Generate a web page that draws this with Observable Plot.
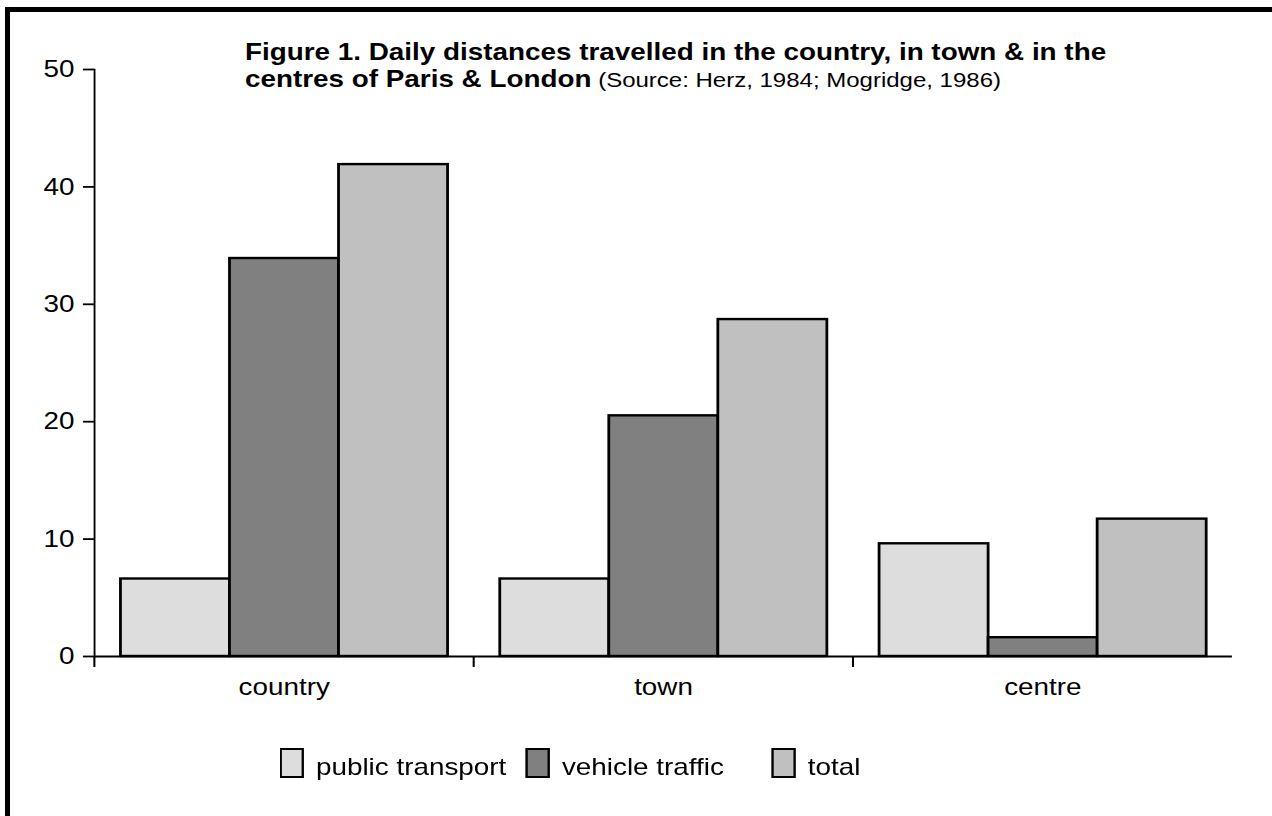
<!DOCTYPE html>
<html>
<head>
<meta charset="utf-8">
<script src="https://cdn.jsdelivr.net/npm/d3@7"></script>
<script src="https://cdn.jsdelivr.net/npm/@observablehq/plot@0.6"></script>
<style>
  html, body { margin: 0; padding: 0; background: white; overflow: hidden; }
  #page { position: relative; width: 1272px; height: 816px; background: white; overflow: hidden; }
  #border { position: absolute; left: 5px; top: 7px; right: -20px; bottom: -20px; z-index: 10;
            border-left: 5px solid black; border-top: 5px solid black; pointer-events: none; }
  #stage { position: absolute; left: 0; top: 0; width: 1097px; height: 816px;
           transform-origin: 0 0; font-family: "Liberation Sans", Arial, Helvetica, sans-serif; color: black; }
  #chart { position: absolute; left: 0; top: 0; }
  #title { position: absolute; left: 211.2px; top: 38px; font-size: 24px; font-weight: bold;
           line-height: 27px; white-space: nowrap; }
  #title .src { font-weight: normal; font-size: 20.7px; }
  #legend { position: absolute; left: 241.4px; top: 748px; display: flex; }
  .item { width: 212px; display: flex; align-items: flex-start; }
  .sw { width: 17px; height: 26px; border: 2px solid black; box-sizing: content-box; }
  .lt { font-size: 24px; line-height: 30px; padding-top: 4px; margin-left: 10px; white-space: nowrap; }
</style>
</head>
<body>
<div id="page">
  <div id="stage">
    <div id="chart"></div>
    <div id="title"></div>
    <div id="legend"></div>
  </div>
  <div id="border"></div>
</div>
<script>
// ---- data ----
const categories = ["country", "town", "centre"];
const series = ["public transport", "vehicle traffic", "total"];
const publicTransport = [6.6, 6.6, 9.6];
const vehicleTraffic = [33.9, 20.5, 1.6];
const total = [41.9, 28.7, 11.7];
const yTicks = [0, 10, 20, 30, 40, 50];
const colors = ["#dddddd", "#808080", "#c0c0c0"];
const titleBold1 = "Figure 1. Daily distances travelled in the country, in town & in the";
const titleBold2 = "centres of Paris & London";
const titleSource = "(Source: Herz, 1984; Mogridge, 1986)";

const seriesValues = [publicTransport, vehicleTraffic, total];
const data = [];
categories.forEach((c, i) => {
  series.forEach((s, j) => data.push({category: c, series: s, value: seriesValues[j][i]}));
});

// ---- layout ----
const stretch = 1.16;
const W = 1272 / stretch, H = 720;
const mL = 93 / stretch, mR = W - 1232 / stretch, mT = 69, mB = 64;
const bandW = (W - mL - mR) / categories.length;

const chart = Plot.plot({
  width: W,
  height: H,
  marginLeft: mL,
  marginRight: mR,
  marginTop: mT,
  marginBottom: mB,
  style: {fontFamily: "Liberation Sans, Arial, Helvetica, sans-serif", fontSize: "24px", color: "black", background: "white", overflow: "visible"},
  fx: {domain: categories, padding: 0, label: null},
  x: {domain: series, paddingInner: 0, paddingOuter: 0.225, axis: null},
  y: {domain: [0, 50], label: null},
  color: {domain: series, range: colors},
  marks: [
    Plot.barY(data, {fx: "category", x: "series", y: "value", fill: "series", stroke: "black", strokeWidth: 2.4}),
    Plot.ruleY([0], {strokeWidth: 1.8}),
    Plot.frame({anchor: "left", facetAnchor: "left", strokeWidth: 1.6}),
    Plot.axisY({ticks: yTicks, tickSize: 9.5, tickPadding: 7.8, strokeWidth: 1.8, label: null, fontSize: 24}),
    Plot.axisFx({anchor: "bottom", tickSize: 0, tickPadding: 21, label: null, fontSize: 24}),
    Plot.axisFx({anchor: "bottom", text: null, tickSize: 11, dx: -bandW / 2, strokeWidth: 1.8, label: null})
  ]
});
document.getElementById("chart").appendChild(chart);

// ---- title ----
const title = document.getElementById("title");
const l1 = document.createElement("div"); l1.textContent = titleBold1;
const l2 = document.createElement("div");
const b2 = document.createElement("span"); b2.textContent = titleBold2;
const s2 = document.createElement("span"); s2.className = "src"; s2.textContent = " " + titleSource;
l2.appendChild(b2); l2.appendChild(s2);
title.appendChild(l1); title.appendChild(l2);

// ---- legend ----
const legend = document.getElementById("legend");
series.forEach((s, j) => {
  const it = document.createElement("div"); it.className = "item";
  const sw = document.createElement("div"); sw.className = "sw"; sw.style.background = colors[j];
  const lt = document.createElement("div"); lt.className = "lt"; lt.textContent = s;
  it.appendChild(sw); it.appendChild(lt); legend.appendChild(it);
});

document.getElementById("stage").style.transform = `scaleX(${stretch})`;
</script>
</body>
</html>
